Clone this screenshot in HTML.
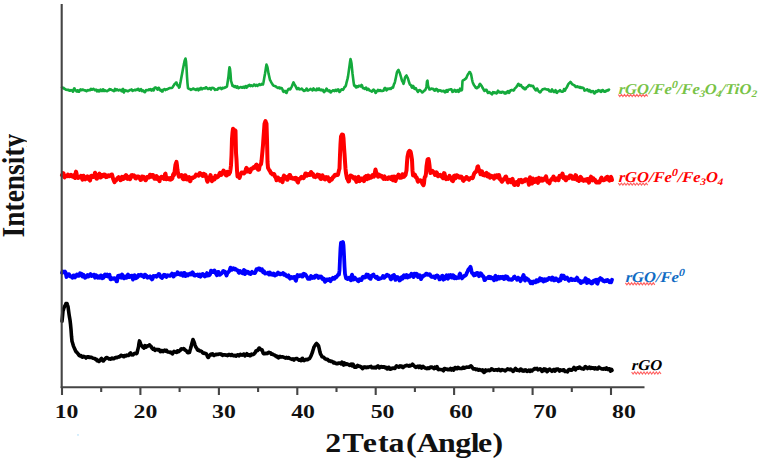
<!DOCTYPE html>
<html><head><meta charset="utf-8"><style>
html,body{margin:0;padding:0;background:#fff;}
svg{display:block;}
text{font-family:"Liberation Serif",serif;}
</style></head><body>
<svg width="761" height="462" viewBox="0 0 761 462">
<rect width="761" height="462" fill="#fff"/>
<g fill="none" stroke-linejoin="round" stroke-linecap="round">
<polyline points="62.0,87.4 62.5,88.0 63.0,87.8 63.5,87.7 64.0,88.7 64.5,89.0 65.0,88.8 65.5,89.3 66.0,89.7 66.5,89.7 67.0,89.9 67.5,90.0 68.0,89.7 68.5,89.7 69.0,90.2 69.5,90.8 70.0,90.8 70.5,90.3 71.0,90.0 71.5,90.3 72.0,90.5 72.5,90.9 73.0,91.7 73.5,90.8 74.0,88.5 74.5,88.4 75.0,89.7 75.5,90.2 76.0,90.5 76.5,91.4 77.0,91.5 77.5,90.3 78.0,90.5 78.5,91.8 79.0,91.7 79.5,90.9 80.0,89.8 80.5,89.3 81.0,90.1 81.5,90.2 82.0,89.5 82.5,89.6 83.0,89.9 83.5,89.8 84.0,90.1 84.5,90.5 85.0,90.3 85.5,90.3 86.0,90.9 86.5,91.2 87.0,90.6 87.5,90.1 88.0,90.3 88.5,90.4 89.0,90.2 89.5,89.9 90.0,90.2 90.5,89.8 91.0,88.9 91.5,89.2 92.0,89.8 92.5,89.6 93.0,88.9 93.5,88.8 94.0,89.5 94.5,89.8 95.0,90.3 95.5,90.2 96.0,89.5 96.5,90.4 97.0,91.3 97.5,90.5 98.0,90.2 98.5,91.0 99.0,91.4 99.5,91.3 100.0,90.3 100.5,89.6 101.0,90.0 101.5,90.6 102.0,91.1 102.5,90.5 103.0,89.3 103.5,89.6 104.0,91.0 104.5,91.0 105.0,90.3 105.5,90.4 106.0,90.8 106.5,91.1 107.0,91.2 107.5,90.8 108.0,90.3 108.5,90.5 109.0,90.2 109.5,89.1 110.0,89.5 110.5,89.8 111.0,89.4 111.5,89.8 112.0,90.1 112.5,90.4 113.0,90.5 113.5,90.8 114.0,91.1 114.5,90.3 115.0,88.9 115.5,89.1 116.0,90.4 116.5,90.1 117.0,89.4 117.5,89.7 118.0,90.1 118.5,90.5 119.0,90.3 119.5,89.9 120.0,89.9 120.5,90.0 121.0,90.1 121.5,91.1 122.0,91.3 122.5,89.4 123.0,88.9 123.5,91.3 124.0,92.5 124.5,90.8 125.0,90.1 125.5,90.8 126.0,90.7 126.5,90.5 127.0,91.0 127.5,91.3 128.0,91.1 128.5,91.1 129.0,90.7 129.5,90.2 130.0,90.0 130.5,90.0 131.0,89.9 131.5,89.4 132.0,89.8 132.5,90.9 133.0,90.6 133.5,90.3 134.0,90.3 134.5,89.9 135.0,89.9 135.5,90.3 136.0,89.9 136.5,89.5 137.0,89.9 137.5,89.5 138.0,88.8 138.5,89.0 139.0,90.1 139.5,90.7 140.0,90.1 140.5,89.5 141.0,89.2 141.5,90.2 142.0,91.2 142.5,90.7 143.0,90.4 143.5,91.0 144.0,91.5 144.5,92.0 145.0,92.2 145.5,91.1 146.0,90.1 146.5,90.1 147.0,90.3 147.5,90.3 148.0,90.3 148.5,89.7 149.0,89.4 149.5,89.9 150.0,89.6 150.5,89.2 151.0,90.2 151.5,90.7 152.0,90.2 152.5,89.2 153.0,89.4 153.5,90.5 154.0,89.7 154.5,87.8 155.0,87.5 155.5,87.7 156.0,87.6 156.5,88.1 157.0,88.8 157.5,89.7 158.0,89.1 158.5,87.8 159.0,88.0 159.5,89.0 160.0,90.1 160.5,90.6 161.0,90.0 161.5,90.0 162.0,91.5 162.5,91.5 163.0,90.0 163.5,89.5 164.0,89.5 164.5,89.1 165.0,89.5 165.5,90.1 166.0,89.4 166.5,89.2 167.0,89.5 167.5,89.1 168.0,88.8 168.5,88.7 169.0,88.4 169.5,88.0 170.0,88.0 170.5,88.1 171.0,88.0 171.5,87.9 172.0,87.9 172.5,87.4 173.0,86.6 173.5,85.7 174.0,85.0 174.5,84.2 175.0,83.7 175.5,83.3 176.0,82.5 176.5,82.6 177.0,84.2 177.5,85.5 178.0,85.5 178.5,85.8 179.0,87.7 179.5,87.2 180.0,84.4 180.5,82.1 181.0,79.5 181.5,76.7 182.0,74.2 182.5,71.6 183.0,68.8 183.5,66.2 184.0,63.9 184.5,61.2 185.0,59.7 185.5,58.5 186.0,61.2 186.5,67.3 187.0,76.5 187.5,83.4 188.0,88.2 188.5,88.4 189.0,89.0 189.5,89.0 190.0,89.1 190.5,89.6 191.0,89.9 191.5,89.4 192.0,89.2 192.5,89.2 193.0,88.5 193.5,88.6 194.0,89.1 194.5,89.0 195.0,89.4 195.5,90.0 196.0,90.0 196.5,89.2 197.0,89.0 197.5,88.7 198.0,88.9 198.5,90.3 199.0,89.5 199.5,88.7 200.0,89.4 200.5,88.7 201.0,87.9 201.5,88.9 202.0,89.4 202.5,88.6 203.0,88.4 203.5,88.5 204.0,88.2 204.5,88.5 205.0,88.5 205.5,87.6 206.0,87.2 206.5,87.5 207.0,88.1 207.5,88.8 208.0,89.0 208.5,88.9 209.0,88.7 209.5,88.2 210.0,88.0 210.5,89.0 211.0,89.5 211.5,88.5 212.0,87.8 212.5,88.0 213.0,88.0 213.5,88.1 214.0,88.5 214.5,89.2 215.0,89.8 215.5,89.5 216.0,89.5 216.5,89.6 217.0,89.6 217.5,89.6 218.0,88.8 218.5,88.1 219.0,88.4 219.5,88.2 220.0,87.9 220.5,87.8 221.0,88.1 221.5,89.1 222.0,88.9 222.5,88.0 223.0,87.8 223.5,88.1 224.0,88.1 224.5,87.6 225.0,87.7 225.5,87.4 226.0,87.1 226.5,87.0 227.0,86.3 227.5,83.0 228.0,79.6 228.5,76.1 229.0,71.0 229.5,67.2 230.0,68.8 230.5,73.7 231.0,80.8 231.5,82.3 232.0,84.1 232.5,85.8 233.0,85.4 233.5,85.6 234.0,86.5 234.5,87.0 235.0,86.6 235.5,86.1 236.0,86.6 236.5,87.6 237.0,87.1 237.5,86.5 238.0,87.5 238.5,88.2 239.0,87.9 239.5,87.6 240.0,87.3 240.5,87.0 241.0,87.1 241.5,87.3 242.0,87.7 242.5,87.7 243.0,86.9 243.5,86.7 244.0,87.3 244.5,87.8 245.0,87.1 245.5,86.2 246.0,86.7 246.5,87.7 247.0,87.3 247.5,85.7 248.0,85.7 248.5,86.2 249.0,85.1 249.5,84.8 250.0,85.9 250.5,86.1 251.0,85.4 251.5,85.4 252.0,85.9 252.5,86.1 253.0,85.8 253.5,85.3 254.0,84.6 254.5,84.5 255.0,85.1 255.5,85.8 256.0,85.5 256.5,85.0 257.0,85.5 257.5,85.8 258.0,85.2 258.5,84.9 259.0,84.4 259.5,84.2 260.0,85.0 260.5,85.0 261.0,84.7 261.5,84.5 262.0,83.8 262.5,83.6 263.0,84.5 263.5,82.3 264.0,79.4 264.5,76.5 265.0,73.8 265.5,70.6 266.0,67.3 266.5,64.6 267.0,65.9 267.5,67.5 268.0,70.5 268.5,73.4 269.0,75.5 269.5,77.8 270.0,80.0 270.5,80.7 271.0,81.8 271.5,82.7 272.0,83.4 272.5,84.3 273.0,85.2 273.5,85.7 274.0,85.8 274.5,85.9 275.0,86.2 275.5,86.2 276.0,86.5 276.5,87.2 277.0,87.5 277.5,87.5 278.0,88.0 278.5,87.9 279.0,87.4 279.5,87.7 280.0,88.5 280.5,88.5 281.0,87.9 281.5,88.0 282.0,88.5 282.5,89.5 283.0,91.0 283.5,91.8 284.0,91.6 284.5,91.1 285.0,90.8 285.5,91.3 286.0,92.7 286.5,93.0 287.0,91.8 287.5,90.4 288.0,89.7 288.5,89.1 289.0,88.7 289.5,88.8 290.0,89.4 290.5,89.0 291.0,87.9 291.5,87.1 292.0,86.2 292.5,84.7 293.0,83.5 293.5,82.4 294.0,83.3 294.5,84.3 295.0,85.2 295.5,86.0 296.0,87.1 296.5,88.3 297.0,89.1 297.5,88.6 298.0,88.2 298.5,88.0 299.0,88.7 299.5,89.4 300.0,89.2 300.5,89.3 301.0,89.1 301.5,88.6 302.0,88.7 302.5,89.6 303.0,90.0 303.5,90.5 304.0,90.9 304.5,90.3 305.0,90.4 305.5,90.5 306.0,89.6 306.5,88.6 307.0,88.7 307.5,89.8 308.0,90.6 308.5,90.4 309.0,89.9 309.5,89.8 310.0,89.4 310.5,88.8 311.0,89.4 311.5,89.6 312.0,89.8 312.5,90.5 313.0,89.4 313.5,88.4 314.0,89.1 314.5,89.9 315.0,89.8 315.5,90.1 316.0,90.3 316.5,89.5 317.0,88.6 317.5,89.2 318.0,90.0 318.5,88.9 319.0,88.5 319.5,89.4 320.0,90.1 320.5,90.3 321.0,89.9 321.5,89.6 322.0,90.3 322.5,90.1 323.0,89.8 323.5,91.4 324.0,92.1 324.5,90.7 325.0,90.8 325.5,91.1 326.0,89.6 326.5,88.6 327.0,89.2 327.5,89.9 328.0,90.6 328.5,91.2 329.0,90.8 329.5,90.3 330.0,91.3 330.5,92.4 331.0,92.3 331.5,91.5 332.0,91.1 332.5,90.7 333.0,90.2 333.5,90.4 334.0,90.8 334.5,91.1 335.0,90.6 335.5,89.8 336.0,90.5 336.5,90.9 337.0,90.0 337.5,89.6 338.0,89.4 338.5,89.7 339.0,91.2 339.5,92.0 340.0,91.6 340.5,90.6 341.0,90.0 341.5,89.5 342.0,89.2 342.5,89.6 343.0,89.8 343.5,89.1 344.0,88.2 344.5,87.2 345.0,86.9 345.5,86.4 346.0,85.0 346.5,82.7 347.0,80.8 347.5,78.9 348.0,76.6 348.5,73.1 349.0,69.5 349.5,65.8 350.0,62.3 350.5,59.1 351.0,60.8 351.5,63.5 352.0,68.5 352.5,73.5 353.0,77.5 353.5,81.5 354.0,84.9 354.5,86.1 355.0,86.0 355.5,85.8 356.0,87.5 356.5,87.4 357.0,86.3 357.5,86.8 358.0,87.0 358.5,86.0 359.0,85.7 359.5,85.8 360.0,86.2 360.5,86.5 361.0,85.6 361.5,85.0 362.0,85.5 362.5,87.1 363.0,88.1 363.5,88.0 364.0,88.4 364.5,88.9 365.0,88.5 365.5,87.8 366.0,87.5 366.5,88.8 367.0,89.8 367.5,89.1 368.0,88.7 368.5,88.9 369.0,89.8 369.5,90.5 370.0,90.5 370.5,90.8 371.0,91.0 371.5,91.3 372.0,91.7 372.5,91.2 373.0,90.2 373.5,89.6 374.0,89.9 374.5,90.5 375.0,91.4 375.5,92.9 376.0,92.7 376.5,91.1 377.0,91.0 377.5,91.1 378.0,89.9 378.5,90.2 379.0,90.9 379.5,90.3 380.0,90.0 380.5,90.5 381.0,90.9 381.5,90.9 382.0,90.9 382.5,90.9 383.0,90.8 383.5,90.7 384.0,89.5 384.5,88.3 385.0,87.9 385.5,88.1 386.0,89.3 386.5,90.3 387.0,90.0 387.5,89.0 388.0,88.6 388.5,88.9 389.0,89.1 389.5,88.7 390.0,88.4 390.5,89.0 391.0,89.0 391.5,87.9 392.0,87.4 392.5,87.3 393.0,87.6 393.5,85.9 394.0,84.2 394.5,83.3 395.0,81.6 395.5,79.3 396.0,77.0 396.5,74.5 397.0,72.1 397.5,71.3 398.0,70.4 398.5,69.9 399.0,71.3 399.5,72.4 400.0,73.5 400.5,75.3 401.0,77.0 401.5,78.8 402.0,80.6 402.5,81.5 403.0,82.5 403.5,83.8 404.0,82.4 404.5,80.0 405.0,77.6 405.5,76.8 406.0,75.9 406.5,75.5 407.0,76.5 407.5,77.7 408.0,78.7 408.5,80.4 409.0,82.0 409.5,83.5 410.0,84.6 410.5,84.8 411.0,85.4 411.5,86.6 412.0,87.7 412.5,87.0 413.0,85.9 413.5,86.4 414.0,88.1 414.5,88.9 415.0,88.7 415.5,88.0 416.0,88.5 416.5,89.9 417.0,90.4 417.5,91.3 418.0,92.0 418.5,90.9 419.0,90.3 419.5,90.1 420.0,90.1 420.5,90.6 421.0,91.1 421.5,91.6 422.0,92.4 422.5,92.4 423.0,91.8 423.5,91.5 424.0,90.8 424.5,90.3 425.0,90.3 425.5,89.3 426.0,88.6 426.5,86.2 427.0,81.5 427.5,80.6 428.0,85.3 428.5,87.2 429.0,88.0 429.5,89.5 430.0,89.5 430.5,89.1 431.0,89.0 431.5,88.6 432.0,88.7 432.5,89.0 433.0,88.8 433.5,89.1 434.0,90.1 434.5,90.7 435.0,90.7 435.5,89.8 436.0,89.0 436.5,88.9 437.0,89.3 437.5,90.5 438.0,91.3 438.5,90.9 439.0,90.2 439.5,90.5 440.0,90.6 440.5,90.3 441.0,90.9 441.5,91.3 442.0,90.9 442.5,91.0 443.0,91.2 443.5,90.7 444.0,90.9 444.5,91.8 445.0,92.4 445.5,92.2 446.0,90.6 446.5,90.1 447.0,91.5 447.5,91.7 448.0,90.3 448.5,89.7 449.0,89.8 449.5,89.6 450.0,89.4 450.5,89.3 451.0,89.4 451.5,89.4 452.0,90.7 452.5,91.9 453.0,91.7 453.5,91.4 454.0,90.7 454.5,89.9 455.0,90.2 455.5,91.1 456.0,91.7 456.5,91.4 457.0,90.3 457.5,90.0 458.0,90.8 458.5,91.8 459.0,91.6 459.5,90.0 460.0,88.7 460.5,89.1 461.0,90.4 461.5,90.3 462.0,89.7 462.5,81.1 463.0,80.3 463.5,80.0 464.0,79.9 464.5,79.7 465.0,79.1 465.5,78.7 466.0,78.5 466.5,77.6 467.0,76.3 467.5,75.2 468.0,74.3 468.5,73.6 469.0,72.9 469.5,72.0 470.0,72.2 470.5,73.2 471.0,74.1 471.5,76.6 472.0,79.2 472.5,81.5 473.0,83.2 473.5,84.1 474.0,85.3 474.5,85.7 475.0,86.5 475.5,87.5 476.0,87.9 476.5,88.2 477.0,88.3 477.5,87.2 478.0,87.4 478.5,87.3 479.0,86.0 479.5,84.5 480.0,83.8 480.5,84.5 481.0,85.2 481.5,85.8 482.0,86.5 482.5,87.7 483.0,88.5 483.5,89.3 484.0,90.4 484.5,91.0 485.0,90.7 485.5,89.9 486.0,89.7 486.5,89.7 487.0,90.8 487.5,92.2 488.0,92.9 488.5,92.8 489.0,92.1 489.5,92.1 490.0,92.6 490.5,93.4 491.0,93.4 491.5,93.6 492.0,94.4 492.5,93.2 493.0,92.1 493.5,92.6 494.0,93.0 494.5,92.5 495.0,92.3 495.5,92.8 496.0,93.1 496.5,93.5 497.0,93.1 497.5,91.4 498.0,90.7 498.5,91.3 499.0,92.0 499.5,92.4 500.0,92.2 500.5,92.0 501.0,92.7 501.5,92.8 502.0,91.7 502.5,91.7 503.0,92.2 503.5,92.0 504.0,92.4 504.5,93.4 505.0,93.6 505.5,92.6 506.0,92.3 506.5,93.1 507.0,92.5 507.5,91.4 508.0,91.1 508.5,91.9 509.0,92.9 509.5,92.4 510.0,91.0 510.5,90.3 511.0,90.6 511.5,90.2 512.0,89.9 512.5,90.3 513.0,90.2 513.5,90.6 514.0,90.2 514.5,88.9 515.0,88.4 515.5,87.8 516.0,87.5 516.5,86.9 517.0,85.9 517.5,85.3 518.0,84.2 518.5,83.9 519.0,84.8 519.5,85.6 520.0,85.1 520.5,84.9 521.0,85.0 521.5,86.2 522.0,86.9 522.5,87.4 523.0,88.1 523.5,87.5 524.0,88.1 524.5,89.2 525.0,89.1 525.5,89.1 526.0,88.5 526.5,87.4 527.0,87.1 527.5,86.9 528.0,86.2 528.5,85.6 529.0,85.1 529.5,85.0 530.0,85.3 530.5,86.0 531.0,85.9 531.5,85.6 532.0,86.1 532.5,86.2 533.0,85.9 533.5,86.9 534.0,88.0 534.5,88.6 535.0,89.3 535.5,90.1 536.0,90.4 536.5,89.4 537.0,88.5 537.5,89.3 538.0,90.5 538.5,90.9 539.0,91.7 539.5,92.1 540.0,92.4 540.5,92.1 541.0,91.1 541.5,90.6 542.0,89.9 542.5,89.4 543.0,89.4 543.5,89.2 544.0,89.0 544.5,88.8 545.0,88.8 545.5,89.0 546.0,89.3 546.5,89.3 547.0,89.6 547.5,89.8 548.0,89.3 548.5,89.4 549.0,90.7 549.5,91.3 550.0,91.1 550.5,91.5 551.0,91.6 551.5,90.2 552.0,89.4 552.5,90.1 553.0,91.1 553.5,91.7 554.0,92.1 554.5,91.9 555.0,91.0 555.5,90.2 556.0,91.0 556.5,92.7 557.0,92.9 557.5,92.0 558.0,91.4 558.5,91.2 559.0,91.3 559.5,90.7 560.0,90.2 560.5,90.8 561.0,91.4 561.5,91.6 562.0,91.8 562.5,91.8 563.0,91.5 563.5,90.6 564.0,89.1 564.5,89.6 565.0,90.6 565.5,89.2 566.0,88.4 566.5,87.8 567.0,86.9 567.5,86.0 568.0,84.7 568.5,83.8 569.0,83.3 569.5,82.9 570.0,82.5 570.5,81.9 571.0,82.5 571.5,83.2 572.0,84.1 572.5,84.4 573.0,84.7 573.5,85.0 574.0,85.2 574.5,85.3 575.0,86.0 575.5,86.7 576.0,87.1 576.5,86.9 577.0,86.3 577.5,86.5 578.0,87.1 578.5,86.9 579.0,86.8 579.5,87.6 580.0,87.8 580.5,87.1 581.0,87.2 581.5,87.9 582.0,87.8 582.5,87.6 583.0,87.9 583.5,88.0 584.0,89.3 584.5,90.6 585.0,90.3 585.5,90.0 586.0,90.3 586.5,89.9 587.0,89.3 587.5,89.5 588.0,90.1 588.5,91.1 589.0,91.1 589.5,90.0 590.0,90.6 590.5,91.9 591.0,92.1 591.5,91.5 592.0,91.1 592.5,91.3 593.0,91.0 593.5,91.8 594.0,93.2 594.5,93.5 595.0,92.8 595.5,92.0 596.0,91.1 596.5,91.2 597.0,91.8 597.5,91.4 598.0,90.5 598.5,90.1 599.0,90.8 599.5,91.1 600.0,90.5 600.5,90.9 601.0,91.9 601.5,91.5 602.0,90.5 602.5,90.0 603.0,90.2 603.5,91.1 604.0,91.6 604.5,91.7 605.0,91.7 605.5,90.9 606.0,90.7 606.5,91.2 607.0,90.7 607.5,90.1 608.0,90.5 608.5,90.3 609.0,89.6" stroke="#14aa3c" stroke-width="2.6"/>
<polyline points="62.0,175.1 62.5,174.5 63.0,173.1 63.5,173.3 64.0,176.5 64.5,177.4 65.0,176.1 65.5,176.3 66.0,175.9 66.5,175.6 67.0,176.2 67.5,175.7 68.0,174.6 68.5,174.8 69.0,175.8 69.5,176.3 70.0,176.0 70.5,175.4 71.0,174.9 71.5,175.1 72.0,176.3 72.5,176.7 73.0,176.5 73.5,175.8 74.0,175.2 74.5,177.5 75.0,177.9 75.5,174.0 76.0,171.6 76.5,173.4 77.0,176.2 77.5,177.4 78.0,178.0 78.5,177.9 79.0,177.2 79.5,176.8 80.0,177.1 80.5,177.0 81.0,175.8 81.5,176.1 82.0,178.6 82.5,179.6 83.0,177.3 83.5,175.7 84.0,177.3 84.5,178.9 85.0,179.3 85.5,178.4 86.0,177.2 86.5,178.8 87.0,178.8 87.5,176.4 88.0,177.4 88.5,178.8 89.0,178.5 89.5,179.7 90.0,180.6 90.5,178.3 91.0,175.9 91.5,175.8 92.0,176.8 92.5,176.7 93.0,176.3 93.5,177.0 94.0,176.9 94.5,175.0 95.0,172.7 95.5,173.6 96.0,176.9 96.5,178.6 97.0,178.7 97.5,177.0 98.0,175.7 98.5,176.3 99.0,175.4 99.5,173.6 100.0,174.9 100.5,177.5 101.0,177.3 101.5,176.0 102.0,174.9 102.5,174.9 103.0,176.1 103.5,175.5 104.0,174.5 104.5,174.5 105.0,174.7 105.5,176.3 106.0,177.1 106.5,176.7 107.0,177.0 107.5,176.4 108.0,175.5 108.5,175.2 109.0,175.6 109.5,176.1 110.0,175.6 110.5,175.1 111.0,175.0 111.5,174.5 112.0,174.5 112.5,176.3 113.0,178.6 113.5,179.8 114.0,181.2 114.5,182.2 115.0,180.4 115.5,179.7 116.0,180.5 116.5,179.6 117.0,179.1 117.5,178.7 118.0,177.6 118.5,177.2 119.0,178.5 119.5,178.3 120.0,178.1 120.5,180.2 121.0,180.1 121.5,178.0 122.0,176.8 122.5,177.1 123.0,177.9 123.5,178.9 124.0,178.6 124.5,176.8 125.0,176.0 125.5,175.6 126.0,175.0 126.5,175.7 127.0,177.3 127.5,178.9 128.0,178.8 128.5,177.2 129.0,176.9 129.5,178.0 130.0,179.1 130.5,178.3 131.0,176.6 131.5,175.2 132.0,175.0 132.5,176.0 133.0,176.4 133.5,175.8 134.0,175.3 134.5,176.0 135.0,177.2 135.5,178.3 136.0,178.5 136.5,177.5 137.0,176.5 137.5,176.5 138.0,176.4 138.5,176.6 139.0,177.5 139.5,177.9 140.0,178.9 140.5,180.0 141.0,179.9 141.5,178.2 142.0,176.5 142.5,177.0 143.0,177.0 143.5,176.8 144.0,178.7 144.5,179.2 145.0,179.3 145.5,180.3 146.0,180.1 146.5,178.2 147.0,177.0 147.5,177.5 148.0,177.3 148.5,176.7 149.0,177.6 149.5,176.5 150.0,174.7 150.5,174.7 151.0,175.5 151.5,176.8 152.0,176.5 152.5,174.9 153.0,174.9 153.5,176.1 154.0,177.4 154.5,178.8 155.0,178.7 155.5,177.8 156.0,177.0 156.5,176.0 157.0,177.6 157.5,179.1 158.0,178.0 158.5,177.6 159.0,179.7 159.5,181.2 160.0,179.1 160.5,177.8 161.0,178.0 161.5,176.8 162.0,176.9 162.5,177.9 163.0,177.9 163.5,177.9 164.0,178.9 164.5,177.7 165.0,174.2 165.5,173.7 166.0,176.8 166.5,179.3 167.0,178.9 167.5,177.9 168.0,178.2 168.5,179.1 169.0,179.4 169.5,178.3 170.0,178.1 170.5,179.7 171.0,179.1 171.5,177.8 172.0,178.9 172.5,178.0 173.0,175.0 173.5,174.0 174.0,175.1 174.5,172.5 175.0,168.2 175.5,164.5 176.0,163.4 176.5,161.9 177.0,165.6 177.5,170.1 178.0,173.3 178.5,175.4 179.0,176.7 179.5,176.0 180.0,175.0 180.5,175.8 181.0,176.1 181.5,175.0 182.0,175.9 182.5,178.2 183.0,179.0 183.5,179.3 184.0,179.1 184.5,177.1 185.0,175.2 185.5,175.2 186.0,177.5 186.5,179.4 187.0,179.5 187.5,178.8 188.0,177.5 188.5,177.2 189.0,177.0 189.5,178.2 190.0,181.3 190.5,181.0 191.0,178.3 191.5,177.7 192.0,177.7 192.5,177.5 193.0,177.9 193.5,177.5 194.0,177.1 194.5,177.1 195.0,176.8 195.5,175.5 196.0,174.6 196.5,174.8 197.0,175.0 197.5,175.0 198.0,175.4 198.5,175.6 199.0,174.5 199.5,173.3 200.0,173.0 200.5,173.6 201.0,174.8 201.5,174.9 202.0,174.4 202.5,175.9 203.0,175.9 203.5,173.7 204.0,174.3 204.5,175.2 205.0,174.4 205.5,174.7 206.0,176.4 206.5,178.3 207.0,180.6 207.5,181.7 208.0,180.4 208.5,179.9 209.0,179.8 209.5,178.5 210.0,176.5 210.5,175.1 211.0,176.9 211.5,180.0 212.0,181.2 212.5,180.2 213.0,178.3 213.5,177.8 214.0,179.6 214.5,179.4 215.0,177.1 215.5,175.8 216.0,176.2 216.5,177.7 217.0,177.5 217.5,176.5 218.0,176.7 218.5,176.4 219.0,175.0 219.5,173.6 220.0,172.8 220.5,173.0 221.0,175.0 221.5,174.9 222.0,172.6 222.5,172.0 223.0,171.6 223.5,170.5 224.0,171.2 224.5,172.2 225.0,173.7 225.5,174.3 226.0,175.3 226.5,175.5 227.0,173.5 227.5,171.8 228.0,173.0 228.5,174.4 229.0,174.1 229.5,173.0 230.0,172.3 230.5,169.5 231.0,165.2 231.5,155.6 232.0,138.9 232.5,132.6 233.0,128.8 233.5,129.1 234.0,129.8 234.5,130.1 235.0,130.3 235.5,130.6 236.0,152.8 236.5,159.6 237.0,170.3 237.5,176.4 238.0,176.1 238.5,175.2 239.0,176.8 239.5,177.9 240.0,176.5 240.5,174.9 241.0,173.6 241.5,172.6 242.0,172.6 242.5,172.7 243.0,172.5 243.5,172.4 244.0,173.4 244.5,173.1 245.0,171.7 245.5,171.1 246.0,168.7 246.5,167.9 247.0,170.1 247.5,171.5 248.0,170.8 248.5,169.4 249.0,170.0 249.5,171.6 250.0,172.1 250.5,171.1 251.0,169.9 251.5,168.6 252.0,168.2 252.5,168.6 253.0,168.4 253.5,167.2 254.0,166.9 254.5,167.8 255.0,167.8 255.5,166.3 256.0,165.0 256.5,164.6 257.0,166.1 257.5,168.0 258.0,169.7 258.5,169.7 259.0,169.6 259.5,166.7 260.0,165.2 260.5,164.8 261.0,164.1 261.5,161.1 262.0,155.9 262.5,150.8 263.0,145.1 263.5,137.7 264.0,130.9 264.5,123.9 265.0,122.3 265.5,121.1 266.0,122.7 266.5,123.7 267.0,139.4 267.5,162.0 268.0,167.8 268.5,168.7 269.0,169.7 269.5,170.5 270.0,171.0 270.5,172.4 271.0,173.3 271.5,173.0 272.0,173.6 272.5,174.4 273.0,174.2 273.5,174.0 274.0,173.9 274.5,174.8 275.0,176.6 275.5,177.2 276.0,178.3 276.5,180.2 277.0,178.9 277.5,177.6 278.0,177.6 278.5,178.4 279.0,179.4 279.5,179.5 280.0,180.7 280.5,180.4 281.0,179.0 281.5,179.3 282.0,180.7 282.5,182.1 283.0,180.0 283.5,176.7 284.0,175.5 284.5,176.3 285.0,177.4 285.5,177.2 286.0,177.1 286.5,177.8 287.0,179.6 287.5,179.8 288.0,177.4 288.5,176.3 289.0,175.9 289.5,174.9 290.0,174.9 290.5,176.5 291.0,178.2 291.5,177.8 292.0,177.5 292.5,178.6 293.0,178.7 293.5,178.3 294.0,178.2 294.5,178.1 295.0,179.2 295.5,179.5 296.0,177.9 296.5,178.2 297.0,180.2 297.5,182.0 298.0,182.4 298.5,180.5 299.0,179.1 299.5,178.7 300.0,178.9 300.5,178.7 301.0,177.2 301.5,176.8 302.0,177.2 302.5,177.3 303.0,177.7 303.5,178.1 304.0,177.5 304.5,176.2 305.0,174.5 305.5,173.4 306.0,173.5 306.5,174.6 307.0,175.6 307.5,174.5 308.0,174.0 308.5,174.9 309.0,174.3 309.5,173.8 310.0,175.0 310.5,174.4 311.0,172.0 311.5,172.6 312.0,174.8 312.5,174.6 313.0,173.9 313.5,175.2 314.0,176.8 314.5,176.5 315.0,176.9 315.5,177.1 316.0,176.2 316.5,176.1 317.0,175.5 317.5,174.5 318.0,175.1 318.5,176.6 319.0,176.3 319.5,175.0 320.0,176.1 320.5,178.9 321.0,179.0 321.5,177.0 322.0,175.4 322.5,175.3 323.0,177.3 323.5,177.5 324.0,177.2 324.5,179.2 325.0,179.4 325.5,177.4 326.0,177.0 326.5,177.9 327.0,178.6 327.5,177.6 328.0,177.4 328.5,179.7 329.0,180.7 329.5,181.1 330.0,180.7 330.5,179.0 331.0,178.9 331.5,179.7 332.0,179.3 332.5,177.8 333.0,177.0 333.5,177.0 334.0,176.5 334.5,175.3 335.0,174.9 335.5,175.4 336.0,175.0 336.5,174.5 337.0,174.7 337.5,175.0 338.0,174.7 338.5,172.3 339.0,170.1 339.5,168.6 340.0,155.0 340.5,143.9 341.0,136.6 341.5,135.4 342.0,134.5 342.5,134.6 343.0,134.8 343.5,138.4 344.0,146.9 344.5,153.7 345.0,161.7 345.5,168.7 346.0,173.2 346.5,175.8 347.0,178.4 347.5,179.0 348.0,180.3 348.5,181.5 349.0,181.1 349.5,178.7 350.0,176.8 350.5,175.5 351.0,175.5 351.5,175.9 352.0,176.1 352.5,176.6 353.0,177.0 353.5,177.9 354.0,178.8 354.5,178.6 355.0,177.2 355.5,177.6 356.0,180.8 356.5,181.8 357.0,180.3 357.5,179.3 358.0,177.3 358.5,176.9 359.0,179.7 359.5,181.2 360.0,179.1 360.5,179.2 361.0,180.0 361.5,178.5 362.0,179.2 362.5,179.9 363.0,178.9 363.5,180.3 364.0,181.1 364.5,178.2 365.0,176.8 365.5,177.0 366.0,176.1 366.5,176.8 367.0,179.2 367.5,178.1 368.0,175.5 368.5,176.3 369.0,178.4 369.5,178.0 370.0,176.5 370.5,176.9 371.0,177.7 371.5,177.5 372.0,175.9 372.5,175.1 373.0,176.2 373.5,176.4 374.0,176.6 374.5,174.9 375.0,171.8 375.5,169.5 376.0,171.4 376.5,173.3 377.0,174.2 377.5,175.1 378.0,176.8 378.5,176.0 379.0,174.6 379.5,174.9 380.0,175.6 380.5,176.3 381.0,175.9 381.5,175.7 382.0,176.5 382.5,176.8 383.0,178.2 383.5,178.8 384.0,177.0 384.5,176.3 385.0,177.8 385.5,178.9 386.0,178.5 386.5,178.1 387.0,178.4 387.5,179.0 388.0,178.8 388.5,177.5 389.0,177.2 389.5,177.6 390.0,177.5 390.5,178.3 391.0,178.9 391.5,178.0 392.0,176.7 392.5,177.7 393.0,180.3 393.5,179.5 394.0,176.5 394.5,177.3 395.0,180.7 395.5,180.9 396.0,179.4 396.5,178.0 397.0,176.2 397.5,176.7 398.0,176.8 398.5,174.6 399.0,175.2 399.5,177.6 400.0,177.8 400.5,176.4 401.0,177.0 401.5,177.7 402.0,175.7 402.5,174.2 403.0,174.8 403.5,175.9 404.0,176.8 404.5,175.9 405.0,175.8 405.5,175.0 406.0,172.6 406.5,170.3 407.0,162.4 407.5,156.6 408.0,154.3 408.5,152.1 409.0,151.5 409.5,150.9 410.0,151.1 410.5,151.5 411.0,153.5 411.5,156.6 412.0,159.8 412.5,170.4 413.0,175.3 413.5,175.5 414.0,175.7 414.5,175.3 415.0,174.7 415.5,176.7 416.0,177.6 416.5,177.3 417.0,178.4 417.5,180.7 418.0,181.7 418.5,181.1 419.0,180.9 419.5,180.7 420.0,180.3 420.5,180.2 421.0,180.6 421.5,181.2 422.0,182.8 422.5,184.1 423.0,184.6 423.5,185.2 424.0,183.4 424.5,178.3 425.0,176.7 425.5,176.4 426.0,173.4 426.5,166.4 427.0,163.1 427.5,159.7 428.0,159.2 428.5,159.0 429.0,161.4 429.5,165.4 430.0,170.7 430.5,173.0 431.0,172.6 431.5,172.5 432.0,171.3 432.5,170.9 433.0,172.0 433.5,171.8 434.0,172.2 434.5,173.8 435.0,175.0 435.5,174.9 436.0,173.5 436.5,172.4 437.0,172.9 437.5,175.1 438.0,176.3 438.5,175.4 439.0,174.8 439.5,175.6 440.0,175.3 440.5,174.8 441.0,175.5 441.5,176.4 442.0,177.0 442.5,177.8 443.0,178.2 443.5,176.2 444.0,173.1 444.5,173.3 445.0,175.6 445.5,177.8 446.0,179.1 446.5,177.9 447.0,177.3 447.5,178.8 448.0,179.0 448.5,178.1 449.0,177.2 449.5,175.9 450.0,176.7 450.5,178.1 451.0,177.8 451.5,179.1 452.0,180.6 452.5,180.9 453.0,181.1 453.5,179.2 454.0,175.9 454.5,175.6 455.0,177.6 455.5,178.4 456.0,176.9 456.5,175.3 457.0,175.2 457.5,175.9 458.0,175.7 458.5,176.6 459.0,177.5 459.5,176.9 460.0,177.8 460.5,177.6 461.0,176.5 461.5,176.8 462.0,177.5 462.5,178.7 463.0,180.4 463.5,180.9 464.0,179.8 464.5,178.5 465.0,178.0 465.5,178.9 466.0,178.6 466.5,177.0 467.0,177.6 467.5,178.0 468.0,178.2 468.5,179.3 469.0,179.7 469.5,178.9 470.0,178.2 470.5,178.3 471.0,178.0 471.5,177.6 472.0,178.0 472.5,178.2 473.0,177.4 473.5,175.5 474.0,174.0 474.5,173.0 475.0,172.4 475.5,172.2 476.0,171.8 476.5,170.7 477.0,169.1 477.5,166.7 478.0,166.3 478.5,168.5 479.0,169.8 479.5,170.4 480.0,172.3 480.5,174.1 481.0,173.5 481.5,171.3 482.0,171.3 482.5,173.4 483.0,175.1 483.5,175.0 484.0,175.1 484.5,175.5 485.0,174.6 485.5,174.1 486.0,173.3 486.5,172.9 487.0,174.7 487.5,176.4 488.0,176.0 488.5,174.2 489.0,174.6 489.5,176.6 490.0,177.7 490.5,177.4 491.0,176.2 491.5,175.8 492.0,176.0 492.5,176.3 493.0,176.6 493.5,177.7 494.0,178.7 494.5,177.1 495.0,175.6 495.5,177.1 496.0,177.3 496.5,175.4 497.0,175.2 497.5,176.8 498.0,177.5 498.5,176.0 499.0,175.1 499.5,176.8 500.0,179.4 500.5,179.9 501.0,179.1 501.5,181.1 502.0,181.7 502.5,180.4 503.0,180.3 503.5,179.9 504.0,179.1 504.5,178.3 505.0,177.7 505.5,176.8 506.0,176.5 506.5,177.8 507.0,179.3 507.5,181.3 508.0,182.4 508.5,181.5 509.0,181.2 509.5,180.6 510.0,179.8 510.5,181.1 511.0,182.1 511.5,181.3 512.0,179.5 512.5,178.8 513.0,180.8 513.5,183.2 514.0,184.6 514.5,185.0 515.0,184.5 515.5,183.6 516.0,182.9 516.5,182.0 517.0,182.3 517.5,184.2 518.0,185.0 518.5,182.0 519.0,180.1 519.5,181.2 520.0,180.6 520.5,180.0 521.0,179.8 521.5,180.3 522.0,182.3 522.5,182.1 523.0,180.5 523.5,180.3 524.0,180.8 524.5,181.2 525.0,180.4 525.5,179.3 526.0,179.3 526.5,180.1 527.0,180.4 527.5,179.8 528.0,180.5 528.5,182.9 529.0,184.8 529.5,181.6 530.0,177.3 530.5,178.1 531.0,180.2 531.5,182.0 532.0,183.5 532.5,181.2 533.0,178.4 533.5,179.6 534.0,181.2 534.5,182.0 535.0,181.8 535.5,180.6 536.0,180.0 536.5,178.9 537.0,179.5 537.5,182.1 538.0,182.8 538.5,179.5 539.0,177.8 539.5,179.2 540.0,180.3 540.5,180.7 541.0,179.0 541.5,178.5 542.0,180.3 542.5,180.6 543.0,179.4 543.5,178.8 544.0,179.8 544.5,179.8 545.0,179.1 545.5,177.4 546.0,176.4 546.5,178.1 547.0,180.4 547.5,181.7 548.0,181.3 548.5,181.0 549.0,182.7 549.5,183.3 550.0,181.1 550.5,180.3 551.0,180.1 551.5,179.1 552.0,179.4 552.5,179.5 553.0,177.4 553.5,176.5 554.0,177.3 554.5,178.0 555.0,180.0 555.5,180.3 556.0,179.2 556.5,179.0 557.0,178.4 557.5,178.1 558.0,179.3 558.5,180.2 559.0,178.3 559.5,175.9 560.0,176.3 560.5,176.9 561.0,175.5 561.5,175.2 562.0,174.7 562.5,173.5 563.0,175.5 563.5,178.2 564.0,177.6 564.5,176.9 565.0,178.2 565.5,180.1 566.0,180.3 566.5,178.2 567.0,177.3 567.5,178.0 568.0,178.2 568.5,178.3 569.0,177.8 569.5,176.4 570.0,175.5 570.5,175.8 571.0,175.6 571.5,175.9 572.0,177.2 572.5,178.8 573.0,178.7 573.5,177.5 574.0,178.2 574.5,178.9 575.0,177.4 575.5,175.1 576.0,175.4 576.5,178.4 577.0,179.9 577.5,178.7 578.0,178.3 578.5,180.4 579.0,181.0 579.5,179.4 580.0,177.4 580.5,176.8 581.0,177.6 581.5,177.8 582.0,179.2 582.5,180.3 583.0,180.5 583.5,180.8 584.0,179.9 584.5,180.0 585.0,180.5 585.5,179.5 586.0,179.4 586.5,180.6 587.0,180.2 587.5,179.0 588.0,178.9 588.5,180.8 589.0,182.6 589.5,181.1 590.0,178.9 590.5,177.7 591.0,176.7 591.5,177.3 592.0,179.7 592.5,180.3 593.0,178.8 593.5,178.4 594.0,179.7 594.5,179.8 595.0,179.8 595.5,181.4 596.0,182.2 596.5,182.5 597.0,182.5 597.5,182.4 598.0,182.5 598.5,181.6 599.0,181.9 599.5,182.3 600.0,181.4 600.5,180.4 601.0,178.3 601.5,177.6 602.0,178.6 602.5,179.3 603.0,180.1 603.5,180.3 604.0,180.3 604.5,179.9 605.0,179.3 605.5,178.5 606.0,177.6 606.5,178.6 607.0,179.2 607.5,176.8 608.0,177.2 608.5,179.4 609.0,180.2 609.5,180.7 610.0,179.3 610.5,177.3 611.0,176.9 611.5,178.0 612.0,180.0" stroke="#ff0000" stroke-width="4.0"/>
<polyline points="62.0,272.8 62.5,271.4 63.0,271.7 63.5,272.4 64.0,272.4 64.5,272.1 65.0,271.6 65.5,272.3 66.0,274.6 66.5,277.0 67.0,276.1 67.5,274.5 68.0,274.4 68.5,274.2 69.0,274.2 69.5,275.2 70.0,276.2 70.5,276.6 71.0,276.8 71.5,276.4 72.0,276.7 72.5,277.8 73.0,276.9 73.5,275.5 74.0,275.5 74.5,276.9 75.0,277.4 75.5,275.8 76.0,275.2 76.5,275.4 77.0,274.4 77.5,274.6 78.0,275.9 78.5,275.9 79.0,275.7 79.5,274.4 80.0,273.3 80.5,274.5 81.0,274.3 81.5,273.7 82.0,275.6 82.5,276.5 83.0,275.4 83.5,274.8 84.0,275.6 84.5,276.7 85.0,277.8 85.5,277.5 86.0,277.1 86.5,277.0 87.0,275.8 87.5,275.1 88.0,276.2 88.5,276.5 89.0,275.5 89.5,275.1 90.0,274.5 90.5,274.0 91.0,275.7 91.5,276.1 92.0,274.9 92.5,275.1 93.0,275.9 93.5,275.9 94.0,274.6 94.5,275.3 95.0,277.7 95.5,277.4 96.0,275.2 96.5,275.7 97.0,276.9 97.5,277.4 98.0,277.8 98.5,276.8 99.0,276.3 99.5,276.8 100.0,277.8 100.5,277.3 101.0,275.4 101.5,275.5 102.0,277.6 102.5,278.3 103.0,277.9 103.5,277.8 104.0,276.6 104.5,275.1 105.0,274.4 105.5,275.4 106.0,276.1 106.5,274.9 107.0,274.6 107.5,275.7 108.0,276.7 108.5,276.7 109.0,275.0 109.5,274.8 110.0,277.1 110.5,279.2 111.0,279.4 111.5,278.5 112.0,278.2 112.5,278.4 113.0,278.8 113.5,278.8 114.0,278.1 114.5,278.1 115.0,278.5 115.5,278.8 116.0,279.8 116.5,281.3 117.0,281.3 117.5,278.8 118.0,276.0 118.5,275.7 119.0,276.7 119.5,276.1 120.0,275.5 120.5,277.4 121.0,277.7 121.5,275.3 122.0,274.4 122.5,275.1 123.0,276.2 123.5,277.8 124.0,278.3 124.5,277.1 125.0,276.6 125.5,277.2 126.0,277.9 126.5,277.9 127.0,276.8 127.5,275.1 128.0,274.5 128.5,275.5 129.0,277.2 129.5,277.1 130.0,275.8 130.5,275.8 131.0,276.2 131.5,275.6 132.0,275.7 132.5,278.1 133.0,279.6 133.5,277.8 134.0,276.0 134.5,275.2 135.0,275.7 135.5,277.6 136.0,278.3 136.5,277.7 137.0,277.4 137.5,277.3 138.0,276.2 138.5,275.0 139.0,275.4 139.5,275.8 140.0,275.2 140.5,274.8 141.0,274.7 141.5,275.5 142.0,276.1 142.5,275.5 143.0,275.5 143.5,276.4 144.0,277.2 144.5,276.3 145.0,274.6 145.5,275.0 146.0,275.4 146.5,275.8 147.0,277.0 147.5,277.7 148.0,277.4 148.5,277.4 149.0,277.5 149.5,276.6 150.0,276.3 150.5,276.7 151.0,277.2 151.5,278.7 152.0,279.5 152.5,278.9 153.0,277.1 153.5,275.9 154.0,276.4 154.5,276.5 155.0,275.8 155.5,275.8 156.0,276.6 156.5,276.8 157.0,276.2 157.5,275.9 158.0,275.0 158.5,274.0 159.0,273.9 159.5,274.3 160.0,275.9 160.5,277.0 161.0,276.9 161.5,277.5 162.0,278.1 162.5,277.3 163.0,276.3 163.5,275.2 164.0,274.8 164.5,275.2 165.0,275.0 165.5,275.8 166.0,276.8 166.5,277.0 167.0,276.0 167.5,275.3 168.0,275.6 168.5,275.5 169.0,275.5 169.5,275.8 170.0,275.8 170.5,275.3 171.0,274.9 171.5,274.3 172.0,273.6 172.5,274.0 173.0,274.9 173.5,276.6 174.0,276.2 174.5,274.0 175.0,274.1 175.5,274.3 176.0,273.9 176.5,274.4 177.0,273.5 177.5,272.3 178.0,273.2 178.5,274.1 179.0,273.8 179.5,273.5 180.0,274.7 180.5,274.8 181.0,273.3 181.5,273.1 182.0,273.7 182.5,274.6 183.0,275.8 183.5,274.8 184.0,272.9 184.5,272.9 185.0,274.7 185.5,276.1 186.0,274.9 186.5,274.1 187.0,274.3 187.5,275.0 188.0,275.5 188.5,274.5 189.0,274.0 189.5,274.3 190.0,273.5 190.5,273.4 191.0,274.5 191.5,274.3 192.0,273.0 192.5,272.3 193.0,272.7 193.5,274.4 194.0,275.4 194.5,275.6 195.0,275.7 195.5,275.2 196.0,274.7 196.5,275.1 197.0,274.9 197.5,274.6 198.0,275.4 198.5,276.0 199.0,275.0 199.5,274.5 200.0,276.0 200.5,276.7 201.0,275.4 201.5,274.5 202.0,275.2 202.5,275.1 203.0,273.9 203.5,275.0 204.0,276.0 204.5,275.6 205.0,276.4 205.5,276.0 206.0,274.8 206.5,274.1 207.0,273.1 207.5,274.2 208.0,275.5 208.5,275.2 209.0,275.4 209.5,275.1 210.0,274.5 210.5,272.8 211.0,270.7 211.5,271.4 212.0,272.2 212.5,271.1 213.0,271.0 213.5,272.1 214.0,271.4 214.5,270.4 215.0,271.7 215.5,273.2 216.0,273.4 216.5,274.6 217.0,275.3 217.5,273.7 218.0,271.8 218.5,271.8 219.0,273.5 219.5,274.8 220.0,274.8 220.5,274.2 221.0,273.7 221.5,273.5 222.0,273.1 222.5,272.3 223.0,271.2 223.5,270.9 224.0,271.5 224.5,271.4 225.0,271.9 225.5,273.0 226.0,274.3 226.5,275.6 227.0,274.3 227.5,272.4 228.0,272.6 228.5,272.0 229.0,271.3 229.5,271.1 230.0,269.0 230.5,267.6 231.0,268.9 231.5,269.9 232.0,269.8 232.5,268.7 233.0,268.3 233.5,268.9 234.0,268.4 234.5,268.6 235.0,269.6 235.5,269.5 236.0,269.3 236.5,269.9 237.0,270.3 237.5,270.2 238.0,270.9 238.5,272.3 239.0,272.9 239.5,271.6 240.0,270.9 240.5,271.7 241.0,272.0 241.5,272.2 242.0,273.1 242.5,273.3 243.0,272.5 243.5,271.0 244.0,269.9 244.5,271.8 245.0,274.1 245.5,272.9 246.0,271.3 246.5,271.6 247.0,272.7 247.5,272.4 248.0,271.7 248.5,272.7 249.0,273.4 249.5,273.0 250.0,273.2 250.5,274.1 251.0,273.6 251.5,272.3 252.0,271.8 252.5,272.3 253.0,272.8 253.5,272.7 254.0,273.0 254.5,273.2 255.0,273.1 255.5,272.2 256.0,270.4 256.5,269.1 257.0,269.6 257.5,269.9 258.0,269.3 258.5,268.5 259.0,268.5 259.5,268.4 260.0,269.1 260.5,270.4 261.0,270.5 261.5,269.5 262.0,269.3 262.5,270.7 263.0,272.2 263.5,271.6 264.0,271.2 264.5,272.7 265.0,273.6 265.5,273.3 266.0,273.3 266.5,273.4 267.0,273.3 267.5,272.8 268.0,272.7 268.5,273.7 269.0,274.6 269.5,274.0 270.0,272.5 270.5,273.5 271.0,274.5 271.5,273.9 272.0,274.2 272.5,274.8 273.0,274.4 273.5,273.5 274.0,273.9 274.5,275.3 275.0,275.6 275.5,274.7 276.0,274.2 276.5,274.8 277.0,274.7 277.5,273.1 278.0,272.6 278.5,273.3 279.0,273.1 279.5,273.4 280.0,274.4 280.5,274.4 281.0,274.1 281.5,274.0 282.0,273.6 282.5,273.6 283.0,273.0 283.5,273.3 284.0,274.8 284.5,274.7 285.0,274.2 285.5,274.9 286.0,275.8 286.5,275.9 287.0,276.4 287.5,276.7 288.0,275.8 288.5,275.3 289.0,276.2 289.5,277.8 290.0,278.7 290.5,278.3 291.0,277.2 291.5,277.0 292.0,277.4 292.5,277.4 293.0,278.0 293.5,277.9 294.0,276.9 294.5,276.9 295.0,278.1 295.5,280.3 296.0,280.7 296.5,278.5 297.0,276.1 297.5,275.0 298.0,276.1 298.5,276.4 299.0,276.0 299.5,276.0 300.0,275.1 300.5,275.3 301.0,275.5 301.5,275.2 302.0,276.5 302.5,276.5 303.0,274.1 303.5,273.8 304.0,275.4 304.5,275.2 305.0,274.2 305.5,274.7 306.0,275.4 306.5,276.1 307.0,276.9 307.5,277.8 308.0,278.9 308.5,278.9 309.0,278.3 309.5,278.5 310.0,278.7 310.5,277.2 311.0,276.0 311.5,276.7 312.0,277.6 312.5,277.9 313.0,277.2 313.5,276.7 314.0,277.3 314.5,277.7 315.0,276.6 315.5,275.7 316.0,275.6 316.5,275.5 317.0,275.7 317.5,276.1 318.0,277.2 318.5,278.0 319.0,277.0 319.5,276.5 320.0,277.2 320.5,277.3 321.0,276.5 321.5,276.8 322.0,278.3 322.5,279.2 323.0,279.0 323.5,278.4 324.0,278.8 324.5,280.6 325.0,281.9 325.5,281.3 326.0,280.8 326.5,280.4 327.0,279.4 327.5,279.3 328.0,279.9 328.5,280.1 329.0,279.3 329.5,278.9 330.0,280.7 330.5,281.2 331.0,279.6 331.5,279.0 332.0,279.3 332.5,278.4 333.0,277.7 333.5,278.5 334.0,278.8 334.5,278.8 335.0,278.1 335.5,276.9 336.0,277.2 336.5,277.2 337.0,276.1 337.5,275.5 338.0,274.9 338.5,274.1 339.0,274.4 339.5,270.2 340.0,258.6 340.5,248.1 341.0,242.7 341.5,242.5 342.0,242.6 342.5,242.7 343.0,242.1 343.5,245.3 344.0,254.8 344.5,265.9 345.0,273.9 345.5,275.9 346.0,278.2 346.5,277.6 347.0,278.2 347.5,279.1 348.0,279.0 348.5,278.2 349.0,277.6 349.5,277.6 350.0,278.0 350.5,279.9 351.0,280.3 351.5,276.9 352.0,274.7 352.5,276.2 353.0,278.3 353.5,279.6 354.0,279.1 354.5,277.5 355.0,277.8 355.5,278.9 356.0,278.9 356.5,279.4 357.0,279.9 357.5,280.4 358.0,281.0 358.5,281.2 359.0,280.4 359.5,279.2 360.0,279.3 360.5,279.7 361.0,280.1 361.5,280.2 362.0,278.7 362.5,277.2 363.0,276.8 363.5,277.4 364.0,277.5 364.5,277.2 365.0,277.6 365.5,277.2 366.0,275.4 366.5,274.6 367.0,275.7 367.5,275.5 368.0,274.7 368.5,276.6 369.0,277.8 369.5,276.9 370.0,277.4 370.5,278.9 371.0,277.7 371.5,275.5 372.0,275.4 372.5,275.9 373.0,274.8 373.5,274.4 374.0,275.8 374.5,276.5 375.0,276.6 375.5,277.4 376.0,277.8 376.5,277.0 377.0,276.7 377.5,278.3 378.0,279.1 378.5,278.8 379.0,279.1 379.5,278.5 380.0,278.2 380.5,278.6 381.0,278.2 381.5,278.0 382.0,277.8 382.5,277.1 383.0,276.0 383.5,276.3 384.0,277.9 384.5,277.7 385.0,276.8 385.5,276.6 386.0,276.2 386.5,274.9 387.0,274.7 387.5,275.4 388.0,275.3 388.5,275.4 389.0,276.1 389.5,276.3 390.0,277.2 390.5,278.8 391.0,279.3 391.5,278.7 392.0,277.4 392.5,275.9 393.0,275.4 393.5,275.2 394.0,274.9 394.5,276.2 395.0,278.7 395.5,279.9 396.0,278.7 396.5,277.2 397.0,276.9 397.5,277.1 398.0,277.5 398.5,277.8 399.0,279.1 399.5,280.5 400.0,280.4 400.5,279.8 401.0,278.0 401.5,277.2 402.0,278.8 402.5,278.8 403.0,277.0 403.5,275.8 404.0,275.2 404.5,276.2 405.0,277.4 405.5,276.7 406.0,275.3 406.5,275.0 407.0,276.4 407.5,277.5 408.0,277.2 408.5,275.9 409.0,275.6 409.5,276.8 410.0,276.3 410.5,275.7 411.0,275.1 411.5,273.7 412.0,274.2 412.5,275.4 413.0,276.3 413.5,277.1 414.0,275.6 414.5,273.6 415.0,274.3 415.5,275.6 416.0,275.2 416.5,273.7 417.0,273.9 417.5,276.1 418.0,277.1 418.5,276.0 419.0,276.2 419.5,276.7 420.0,275.2 420.5,276.6 421.0,279.1 421.5,278.1 422.0,276.5 422.5,276.4 423.0,276.6 423.5,275.7 424.0,275.6 424.5,275.4 425.0,274.9 425.5,274.8 426.0,273.8 426.5,273.6 427.0,274.0 427.5,274.2 428.0,274.8 428.5,274.9 429.0,274.5 429.5,274.2 430.0,274.5 430.5,275.5 431.0,276.5 431.5,276.8 432.0,277.0 432.5,276.6 433.0,276.6 433.5,277.0 434.0,276.6 434.5,277.4 435.0,278.0 435.5,276.8 436.0,275.9 436.5,275.5 437.0,275.4 437.5,275.5 438.0,276.1 438.5,276.9 439.0,278.2 439.5,279.4 440.0,279.2 440.5,278.6 441.0,278.0 441.5,277.1 442.0,276.0 442.5,275.7 443.0,277.8 443.5,279.7 444.0,278.8 444.5,278.2 445.0,278.8 445.5,277.6 446.0,276.0 446.5,275.3 447.0,275.5 447.5,277.3 448.0,278.7 448.5,277.1 449.0,275.3 449.5,275.5 450.0,275.3 450.5,274.9 451.0,276.3 451.5,277.6 452.0,277.7 452.5,277.0 453.0,275.2 453.5,275.4 454.0,278.2 454.5,278.3 455.0,276.6 455.5,277.0 456.0,278.0 456.5,278.3 457.0,277.9 457.5,277.4 458.0,277.7 458.5,277.9 459.0,276.8 459.5,274.5 460.0,273.6 460.5,274.7 461.0,275.8 461.5,277.4 462.0,278.4 462.5,277.5 463.0,276.6 463.5,276.7 464.0,276.5 464.5,275.7 465.0,275.6 465.5,275.4 466.0,274.9 466.5,273.8 467.0,272.5 467.5,271.5 468.0,270.4 468.5,269.4 469.0,268.9 469.5,268.4 470.0,267.6 470.5,266.8 471.0,268.8 471.5,271.0 472.0,272.9 472.5,273.3 473.0,273.9 473.5,274.8 474.0,275.5 474.5,274.3 475.0,273.7 475.5,275.0 476.0,274.6 476.5,273.2 477.0,272.8 477.5,272.8 478.0,273.4 478.5,274.5 479.0,276.2 479.5,275.7 480.0,273.5 480.5,273.2 481.0,273.7 481.5,274.0 482.0,275.3 482.5,276.2 483.0,275.9 483.5,276.6 484.0,278.4 484.5,280.1 485.0,280.2 485.5,279.3 486.0,278.7 486.5,278.2 487.0,277.9 487.5,277.9 488.0,278.0 488.5,277.0 489.0,276.7 489.5,278.1 490.0,278.1 490.5,276.9 491.0,277.2 491.5,278.4 492.0,278.3 492.5,277.9 493.0,278.1 493.5,279.1 494.0,280.2 494.5,279.2 495.0,276.5 495.5,275.8 496.0,278.0 496.5,279.6 497.0,279.4 497.5,278.8 498.0,277.3 498.5,276.7 499.0,277.9 499.5,278.6 500.0,277.8 500.5,276.8 501.0,276.9 501.5,277.7 502.0,278.0 502.5,277.4 503.0,276.8 503.5,277.8 504.0,279.1 504.5,278.4 505.0,277.0 505.5,276.3 506.0,277.4 506.5,278.3 507.0,276.7 507.5,276.8 508.0,278.9 508.5,279.5 509.0,278.9 509.5,279.1 510.0,279.6 510.5,279.3 511.0,279.3 511.5,279.8 512.0,279.8 512.5,279.2 513.0,278.3 513.5,278.0 514.0,276.9 514.5,276.6 515.0,277.9 515.5,278.3 516.0,278.2 516.5,278.7 517.0,279.8 517.5,278.9 518.0,277.6 518.5,278.6 519.0,279.1 519.5,278.4 520.0,279.6 520.5,281.2 521.0,280.3 521.5,278.7 522.0,278.3 522.5,278.2 523.0,276.1 523.5,274.9 524.0,276.4 524.5,278.7 525.0,280.6 525.5,280.0 526.0,278.1 526.5,278.3 527.0,279.4 527.5,279.2 528.0,279.2 528.5,280.1 529.0,280.7 529.5,281.0 530.0,281.7 530.5,283.3 531.0,282.7 531.5,281.8 532.0,283.2 532.5,283.4 533.0,282.3 533.5,281.4 534.0,281.4 534.5,281.7 535.0,281.8 535.5,282.3 536.0,281.5 536.5,280.1 537.0,280.5 537.5,281.6 538.0,281.4 538.5,280.2 539.0,279.7 539.5,279.3 540.0,278.2 540.5,278.8 541.0,280.4 541.5,280.0 542.0,279.0 542.5,279.4 543.0,281.1 543.5,281.5 544.0,280.1 544.5,279.2 545.0,279.5 545.5,280.9 546.0,280.4 546.5,279.2 547.0,279.9 547.5,280.0 548.0,279.5 548.5,278.9 549.0,277.9 549.5,278.0 550.0,278.8 550.5,278.2 551.0,278.4 551.5,279.8 552.0,278.9 552.5,277.5 553.0,278.0 553.5,279.6 554.0,280.4 554.5,280.3 555.0,279.6 555.5,278.3 556.0,278.4 556.5,279.2 557.0,279.9 557.5,279.3 558.0,279.5 558.5,281.3 559.0,280.4 559.5,279.7 560.0,280.6 560.5,280.3 561.0,278.0 561.5,275.3 562.0,276.3 562.5,278.1 563.0,277.3 563.5,275.6 564.0,276.1 564.5,278.6 565.0,279.0 565.5,277.7 566.0,277.9 566.5,277.9 567.0,277.5 567.5,278.2 568.0,279.3 568.5,280.3 569.0,280.7 569.5,279.8 570.0,279.3 570.5,279.5 571.0,278.7 571.5,278.8 572.0,280.1 572.5,280.0 573.0,280.0 573.5,279.9 574.0,279.4 574.5,280.0 575.0,280.2 575.5,280.0 576.0,279.8 576.5,278.5 577.0,277.6 577.5,278.5 578.0,279.7 578.5,280.9 579.0,281.0 579.5,280.4 580.0,281.5 580.5,283.0 581.0,283.1 581.5,282.4 582.0,281.8 582.5,281.2 583.0,281.4 583.5,281.8 584.0,281.7 584.5,281.0 585.0,279.5 585.5,278.3 586.0,278.6 586.5,280.7 587.0,283.0 587.5,282.8 588.0,280.4 588.5,280.0 589.0,282.0 589.5,282.0 590.0,281.3 590.5,282.4 591.0,283.3 591.5,283.5 592.0,283.4 592.5,283.1 593.0,282.1 593.5,280.8 594.0,280.6 594.5,281.2 595.0,281.5 595.5,280.1 596.0,279.7 596.5,281.8 597.0,283.4 597.5,283.7 598.0,282.1 598.5,279.6 599.0,279.1 599.5,279.7 600.0,279.1 600.5,278.1 601.0,279.2 601.5,279.7 602.0,279.1 602.5,280.0 603.0,280.9 603.5,280.8 604.0,281.3 604.5,281.5 605.0,281.0 605.5,280.4 606.0,280.5 606.5,281.1 607.0,280.2 607.5,279.9 608.0,280.6 608.5,280.6 609.0,281.4 609.5,282.2 610.0,281.5 610.5,281.5 611.0,282.3 611.5,281.3 612.0,279.7" stroke="#0000ff" stroke-width="3.8"/>
<polyline points="62.0,321.2 62.5,316.2 63.0,310.9 63.5,309.4 64.0,307.8 64.5,306.6 65.0,305.7 65.5,304.7 66.0,303.6 66.5,303.5 67.0,303.5 67.5,305.1 68.0,306.5 68.5,310.3 69.0,313.9 69.5,317.1 70.0,320.0 70.5,324.3 71.0,329.4 71.5,336.3 72.0,341.2 72.5,342.8 73.0,344.5 73.5,346.1 74.0,347.3 74.5,348.4 75.0,349.5 75.5,350.8 76.0,351.8 76.5,351.9 77.0,352.6 77.5,353.3 78.0,353.7 78.5,354.5 79.0,355.3 79.5,355.8 80.0,355.9 80.5,355.5 81.0,355.5 81.5,356.2 82.0,357.1 82.5,357.2 83.0,356.7 83.5,356.4 84.0,356.6 84.5,356.6 85.0,356.8 85.5,357.5 86.0,358.0 86.5,357.3 87.0,356.9 87.5,357.1 88.0,356.7 88.5,356.8 89.0,357.5 89.5,357.4 90.0,357.1 90.5,357.5 91.0,357.4 91.5,357.4 92.0,357.7 92.5,358.0 93.0,358.3 93.5,358.3 94.0,358.4 94.5,358.5 95.0,358.7 95.5,359.3 96.0,359.0 96.5,359.4 97.0,360.7 97.5,360.3 98.0,360.2 98.5,361.3 99.0,361.5 99.5,361.0 100.0,360.4 100.5,359.7 101.0,358.9 101.5,358.5 102.0,359.0 102.5,359.8 103.0,360.9 103.5,360.9 104.0,359.9 104.5,359.5 105.0,359.1 105.5,358.5 106.0,357.8 106.5,357.5 107.0,357.7 107.5,357.9 108.0,358.1 108.5,358.5 109.0,359.0 109.5,358.9 110.0,358.9 110.5,359.2 111.0,358.9 111.5,358.4 112.0,358.1 112.5,358.4 113.0,358.8 113.5,358.8 114.0,358.6 114.5,358.3 115.0,357.9 115.5,357.5 116.0,357.4 116.5,357.8 117.0,357.7 117.5,357.3 118.0,357.2 118.5,356.8 119.0,356.7 119.5,356.9 120.0,356.3 120.5,355.7 121.0,355.4 121.5,355.4 122.0,355.9 122.5,355.7 123.0,355.8 123.5,356.8 124.0,356.7 124.5,355.7 125.0,355.5 125.5,356.0 126.0,355.9 126.5,355.2 127.0,355.1 127.5,355.5 128.0,355.4 128.5,355.4 129.0,354.9 129.5,354.1 130.0,353.3 130.5,353.0 131.0,354.1 131.5,354.8 132.0,354.4 132.5,354.8 133.0,354.9 133.5,354.2 134.0,353.9 134.5,353.6 135.0,353.2 135.5,353.2 136.0,353.4 136.5,353.7 137.0,353.1 137.5,350.8 138.0,348.9 138.5,346.9 139.0,343.3 139.5,340.9 140.0,342.2 140.5,343.5 141.0,344.9 141.5,345.4 142.0,346.0 142.5,346.7 143.0,347.3 143.5,347.7 144.0,348.1 144.5,347.0 145.0,345.7 145.5,346.4 146.0,347.2 146.5,346.7 147.0,346.0 147.5,345.8 148.0,346.0 148.5,345.8 149.0,345.2 149.5,344.9 150.0,345.6 150.5,346.1 151.0,346.4 151.5,347.4 152.0,348.1 152.5,348.5 153.0,349.2 153.5,348.8 154.0,348.5 154.5,349.8 155.0,350.4 155.5,349.8 156.0,349.7 156.5,349.6 157.0,349.4 157.5,349.8 158.0,350.0 158.5,349.7 159.0,349.5 159.5,350.0 160.0,351.2 160.5,351.7 161.0,351.3 161.5,350.7 162.0,350.5 162.5,351.5 163.0,351.6 163.5,350.9 164.0,350.7 164.5,350.2 165.0,350.5 165.5,351.0 166.0,350.3 166.5,350.2 167.0,351.3 167.5,351.9 168.0,351.8 168.5,351.9 169.0,352.0 169.5,352.4 170.0,352.3 170.5,352.1 171.0,352.4 171.5,352.8 172.0,353.7 172.5,353.9 173.0,353.0 173.5,351.9 174.0,351.3 174.5,351.5 175.0,352.0 175.5,352.2 176.0,352.2 176.5,352.4 177.0,352.1 177.5,350.9 178.0,350.9 178.5,351.7 179.0,351.4 179.5,350.8 180.0,350.6 180.5,349.9 181.0,349.0 181.5,348.7 182.0,349.0 182.5,349.1 183.0,349.0 183.5,348.6 184.0,348.7 184.5,349.4 185.0,350.1 185.5,350.3 186.0,350.5 186.5,351.0 187.0,351.7 187.5,352.5 188.0,352.8 188.5,352.6 189.0,352.5 189.5,352.4 190.0,350.3 190.5,348.8 191.0,347.1 191.5,344.9 192.0,343.0 192.5,341.3 193.0,339.5 193.5,340.7 194.0,341.9 194.5,343.4 195.0,345.0 195.5,346.4 196.0,347.3 196.5,347.9 197.0,348.8 197.5,349.9 198.0,350.3 198.5,350.4 199.0,350.2 199.5,350.8 200.0,351.0 200.5,351.0 201.0,351.1 201.5,351.3 202.0,351.8 202.5,352.7 203.0,353.1 203.5,352.8 204.0,353.1 204.5,353.5 205.0,353.3 205.5,353.4 206.0,353.6 206.5,354.1 207.0,355.3 207.5,356.6 208.0,357.5 208.5,357.3 209.0,356.4 209.5,355.4 210.0,355.0 210.5,354.4 211.0,354.2 211.5,354.9 212.0,354.5 212.5,353.8 213.0,354.3 213.5,355.3 214.0,355.5 214.5,354.9 215.0,354.8 215.5,354.6 216.0,354.3 216.5,354.6 217.0,354.4 217.5,354.2 218.0,354.5 218.5,354.2 219.0,354.1 219.5,354.0 220.0,353.8 220.5,354.3 221.0,354.5 221.5,354.1 222.0,354.7 222.5,355.3 223.0,354.8 223.5,354.7 224.0,355.0 224.5,354.8 225.0,354.8 225.5,354.9 226.0,355.2 226.5,355.0 227.0,355.0 227.5,355.6 228.0,355.4 228.5,354.7 229.0,354.5 229.5,354.6 230.0,355.0 230.5,355.4 231.0,355.3 231.5,354.5 232.0,354.7 232.5,355.5 233.0,355.4 233.5,355.5 234.0,355.9 234.5,355.5 235.0,355.2 235.5,355.5 236.0,356.1 236.5,355.8 237.0,355.1 237.5,354.9 238.0,354.9 238.5,355.6 239.0,355.8 239.5,355.2 240.0,354.4 240.5,354.3 241.0,355.0 241.5,355.1 242.0,355.0 242.5,355.1 243.0,354.6 243.5,354.2 244.0,354.0 244.5,354.6 245.0,355.8 245.5,355.4 246.0,355.0 246.5,354.6 247.0,353.7 247.5,354.4 248.0,355.2 248.5,355.2 249.0,355.2 249.5,354.9 250.0,355.8 250.5,355.7 251.0,354.3 251.5,354.1 252.0,354.8 252.5,354.7 253.0,354.4 253.5,354.4 254.0,354.0 254.5,353.2 255.0,352.9 255.5,351.9 256.0,350.9 256.5,350.7 257.0,350.8 257.5,350.6 258.0,349.9 258.5,348.8 259.0,348.2 259.5,348.0 260.0,348.7 260.5,349.3 261.0,349.8 261.5,349.8 262.0,349.8 262.5,351.0 263.0,352.8 263.5,353.7 264.0,353.8 264.5,353.6 265.0,353.6 265.5,353.3 266.0,353.4 266.5,353.4 267.0,353.6 267.5,353.5 268.0,352.8 268.5,352.4 269.0,352.4 269.5,352.7 270.0,352.7 270.5,352.7 271.0,353.5 271.5,354.3 272.0,354.3 272.5,354.1 273.0,354.4 273.5,354.8 274.0,354.9 274.5,355.0 275.0,355.6 275.5,355.9 276.0,355.8 276.5,356.6 277.0,356.9 277.5,356.4 278.0,357.4 278.5,357.8 279.0,357.0 279.5,356.5 280.0,356.3 280.5,356.7 281.0,357.1 281.5,357.0 282.0,356.7 282.5,356.7 283.0,357.0 283.5,357.1 284.0,357.3 284.5,357.5 285.0,357.5 285.5,358.1 286.0,358.0 286.5,357.5 287.0,357.9 287.5,358.1 288.0,357.7 288.5,357.6 289.0,357.9 289.5,358.4 290.0,358.6 290.5,358.7 291.0,359.0 291.5,359.0 292.0,359.4 292.5,359.3 293.0,358.8 293.5,359.6 294.0,360.1 294.5,359.2 295.0,358.9 295.5,358.8 296.0,358.7 296.5,358.5 297.0,358.6 297.5,359.3 298.0,359.5 298.5,359.6 299.0,360.2 299.5,360.3 300.0,359.7 300.5,359.7 301.0,360.7 301.5,360.2 302.0,358.5 302.5,358.3 303.0,359.4 303.5,360.5 304.0,360.6 304.5,360.0 305.0,360.0 305.5,359.9 306.0,359.4 306.5,359.7 307.0,359.8 307.5,359.8 308.0,359.5 308.5,358.8 309.0,358.9 309.5,358.5 310.0,357.7 310.5,356.8 311.0,355.9 311.5,354.6 312.0,353.3 312.5,352.0 313.0,350.3 313.5,348.7 314.0,347.0 314.5,346.3 315.0,345.5 315.5,344.7 316.0,343.9 316.5,343.4 317.0,344.0 317.5,344.5 318.0,345.1 318.5,345.8 319.0,347.8 319.5,350.0 320.0,352.3 320.5,353.9 321.0,354.8 321.5,355.6 322.0,356.7 322.5,356.8 323.0,356.9 323.5,357.3 324.0,357.6 324.5,358.2 325.0,358.8 325.5,358.8 326.0,358.9 326.5,359.4 327.0,359.3 327.5,359.2 328.0,359.7 328.5,360.5 329.0,361.0 329.5,361.0 330.0,360.8 330.5,361.1 331.0,361.5 331.5,361.4 332.0,361.4 332.5,361.6 333.0,362.1 333.5,363.0 334.0,362.9 334.5,362.5 335.0,363.2 335.5,363.4 336.0,363.6 336.5,363.7 337.0,363.2 337.5,363.3 338.0,363.6 338.5,363.2 339.0,363.0 339.5,363.3 340.0,363.1 340.5,363.0 341.0,363.8 341.5,363.3 342.0,362.1 342.5,362.9 343.0,364.7 343.5,365.0 344.0,363.9 344.5,363.0 345.0,363.6 345.5,364.5 346.0,364.4 346.5,363.8 347.0,363.8 347.5,364.3 348.0,364.3 348.5,364.4 349.0,365.0 349.5,365.4 350.0,365.1 350.5,364.4 351.0,364.2 351.5,365.3 352.0,365.9 352.5,364.9 353.0,364.2 353.5,364.8 354.0,366.2 354.5,367.2 355.0,367.1 355.5,366.9 356.0,367.2 356.5,366.9 357.0,365.9 357.5,365.4 358.0,365.6 358.5,366.0 359.0,366.4 359.5,366.4 360.0,366.3 360.5,366.4 361.0,367.0 361.5,367.7 362.0,367.9 362.5,368.6 363.0,368.3 363.5,367.2 364.0,367.5 364.5,367.4 365.0,366.8 365.5,367.2 366.0,367.6 366.5,367.3 367.0,367.0 367.5,367.2 368.0,367.5 368.5,367.2 369.0,366.9 369.5,366.8 370.0,366.8 370.5,366.5 371.0,366.4 371.5,367.4 372.0,367.8 372.5,367.7 373.0,367.5 373.5,367.4 374.0,367.8 374.5,367.3 375.0,367.2 375.5,367.8 376.0,367.9 376.5,367.1 377.0,366.5 377.5,366.3 378.0,365.9 378.5,366.3 379.0,367.4 379.5,367.9 380.0,367.5 380.5,366.8 381.0,366.6 381.5,366.6 382.0,367.1 382.5,367.3 383.0,366.9 383.5,366.7 384.0,366.8 384.5,367.3 385.0,367.6 385.5,367.2 386.0,367.4 386.5,368.2 387.0,368.9 387.5,368.9 388.0,368.2 388.5,367.2 389.0,367.3 389.5,368.6 390.0,369.3 390.5,369.2 391.0,369.0 391.5,368.2 392.0,368.2 392.5,368.5 393.0,368.0 393.5,368.0 394.0,368.2 394.5,368.4 395.0,368.4 395.5,367.5 396.0,366.5 396.5,365.9 397.0,366.1 397.5,366.7 398.0,366.9 398.5,367.1 399.0,367.1 399.5,366.3 400.0,365.8 400.5,366.6 401.0,366.7 401.5,366.0 402.0,366.3 402.5,367.4 403.0,367.6 403.5,367.2 404.0,366.8 404.5,366.1 405.0,365.9 405.5,365.9 406.0,365.7 406.5,365.4 407.0,365.4 407.5,365.7 408.0,365.6 408.5,365.8 409.0,366.1 409.5,365.4 410.0,365.3 410.5,365.8 411.0,365.4 411.5,365.3 412.0,364.9 412.5,364.2 413.0,364.6 413.5,365.2 414.0,365.7 414.5,366.3 415.0,366.8 415.5,367.3 416.0,367.4 416.5,367.0 417.0,366.7 417.5,366.5 418.0,366.1 418.5,366.5 419.0,367.5 419.5,367.1 420.0,366.1 420.5,366.5 421.0,367.5 421.5,368.0 422.0,367.6 422.5,366.5 423.0,366.3 423.5,366.9 424.0,367.2 424.5,367.6 425.0,368.0 425.5,368.1 426.0,368.2 426.5,368.6 427.0,368.7 427.5,368.1 428.0,367.8 428.5,368.4 429.0,368.5 429.5,368.2 430.0,367.6 430.5,367.1 431.0,367.4 431.5,367.1 432.0,367.1 432.5,367.8 433.0,367.8 433.5,367.9 434.0,368.6 434.5,368.3 435.0,367.1 435.5,367.3 436.0,368.2 436.5,367.3 437.0,366.7 437.5,368.0 438.0,369.3 438.5,369.6 439.0,369.5 439.5,369.3 440.0,369.5 440.5,369.5 441.0,369.5 441.5,369.8 442.0,369.8 442.5,369.6 443.0,370.3 443.5,370.8 444.0,369.8 444.5,368.5 445.0,368.9 445.5,369.3 446.0,369.1 446.5,369.1 447.0,369.0 447.5,369.7 448.0,369.6 448.5,369.4 449.0,369.8 449.5,369.7 450.0,368.9 450.5,368.4 451.0,369.1 451.5,370.0 452.0,369.4 452.5,368.7 453.0,369.5 453.5,370.1 454.0,369.4 454.5,368.3 455.0,367.5 455.5,367.6 456.0,368.2 456.5,368.8 457.0,368.8 457.5,367.9 458.0,367.4 458.5,367.6 459.0,368.1 459.5,368.5 460.0,368.3 460.5,368.5 461.0,368.6 461.5,368.2 462.0,368.4 462.5,368.1 463.0,367.4 463.5,367.4 464.0,368.1 464.5,368.1 465.0,367.5 465.5,367.7 466.0,367.6 466.5,367.1 467.0,367.2 467.5,367.2 468.0,367.2 468.5,367.0 469.0,366.9 469.5,367.2 470.0,366.8 470.5,366.1 471.0,365.8 471.5,366.4 472.0,367.1 472.5,367.8 473.0,368.6 473.5,369.0 474.0,368.8 474.5,368.8 475.0,368.7 475.5,369.0 476.0,369.7 476.5,369.5 477.0,369.1 477.5,369.3 478.0,369.9 478.5,370.2 479.0,369.7 479.5,369.5 480.0,369.9 480.5,369.9 481.0,370.1 481.5,370.6 482.0,370.1 482.5,369.9 483.0,371.1 483.5,372.0 484.0,372.5 484.5,372.2 485.0,370.5 485.5,370.0 486.0,370.6 486.5,370.8 487.0,370.2 487.5,370.2 488.0,370.4 488.5,370.0 489.0,370.2 489.5,370.6 490.0,370.3 490.5,370.2 491.0,369.6 491.5,368.8 492.0,369.0 492.5,369.5 493.0,369.6 493.5,369.9 494.0,370.2 494.5,370.3 495.0,370.0 495.5,369.8 496.0,369.7 496.5,369.7 497.0,370.1 497.5,370.3 498.0,369.6 498.5,369.4 499.0,369.2 499.5,369.7 500.0,370.4 500.5,370.7 501.0,370.6 501.5,370.0 502.0,369.6 502.5,369.8 503.0,370.0 503.5,370.0 504.0,370.0 504.5,370.5 505.0,370.9 505.5,370.6 506.0,370.2 506.5,369.9 507.0,369.3 507.5,368.9 508.0,369.2 508.5,369.3 509.0,369.2 509.5,369.7 510.0,369.6 510.5,369.1 511.0,369.4 511.5,370.1 512.0,370.2 512.5,370.4 513.0,371.4 513.5,371.1 514.0,369.8 514.5,369.6 515.0,369.1 515.5,368.5 516.0,369.3 516.5,370.0 517.0,369.6 517.5,369.7 518.0,370.4 518.5,370.3 519.0,370.3 519.5,370.8 520.0,370.3 520.5,369.2 521.0,369.0 521.5,369.5 522.0,370.3 522.5,371.0 523.0,371.1 523.5,370.4 524.0,370.2 524.5,370.9 525.0,370.8 525.5,369.9 526.0,370.0 526.5,370.8 527.0,371.4 527.5,371.1 528.0,370.9 528.5,371.0 529.0,370.2 529.5,370.4 530.0,371.4 530.5,371.0 531.0,370.1 531.5,370.4 532.0,370.9 532.5,370.2 533.0,369.7 533.5,369.7 534.0,369.0 534.5,368.6 535.0,368.5 535.5,368.5 536.0,369.0 536.5,368.9 537.0,368.5 537.5,369.2 538.0,369.8 538.5,369.6 539.0,369.5 539.5,369.3 540.0,368.8 540.5,368.9 541.0,369.5 541.5,370.4 542.0,371.4 542.5,371.1 543.0,370.0 543.5,369.4 544.0,368.8 544.5,369.0 545.0,370.5 545.5,370.4 546.0,369.3 546.5,370.4 547.0,371.7 547.5,371.3 548.0,370.7 548.5,370.3 549.0,369.5 549.5,369.1 550.0,369.4 550.5,369.9 551.0,370.2 551.5,370.9 552.0,371.3 552.5,371.0 553.0,370.4 553.5,369.5 554.0,369.6 554.5,370.8 555.0,371.1 555.5,370.5 556.0,369.4 556.5,369.1 557.0,369.5 557.5,369.0 558.0,369.1 558.5,369.7 559.0,370.3 559.5,371.0 560.0,370.4 560.5,369.8 561.0,370.0 561.5,370.0 562.0,370.4 562.5,370.4 563.0,369.9 563.5,369.9 564.0,369.9 564.5,370.7 565.0,371.5 565.5,371.4 566.0,371.2 566.5,371.3 567.0,371.6 567.5,371.8 568.0,370.9 568.5,369.9 569.0,369.5 569.5,369.4 570.0,369.5 570.5,369.8 571.0,370.3 571.5,370.3 572.0,369.9 572.5,369.5 573.0,369.0 573.5,368.1 574.0,367.5 574.5,367.9 575.0,369.3 575.5,369.9 576.0,368.9 576.5,368.4 577.0,368.1 577.5,367.8 578.0,368.3 578.5,368.3 579.0,367.3 579.5,367.0 580.0,367.6 580.5,368.0 581.0,368.4 581.5,368.6 582.0,368.4 582.5,368.5 583.0,368.9 583.5,369.1 584.0,368.9 584.5,368.0 585.0,366.9 585.5,366.6 586.0,367.0 586.5,367.3 587.0,367.8 587.5,368.5 588.0,368.1 588.5,367.6 589.0,367.2 589.5,367.1 590.0,368.0 590.5,368.5 591.0,368.2 591.5,367.6 592.0,367.7 592.5,368.3 593.0,368.3 593.5,367.9 594.0,368.4 594.5,368.8 595.0,367.9 595.5,367.9 596.0,368.6 596.5,368.8 597.0,368.9 597.5,369.0 598.0,368.8 598.5,367.7 599.0,367.1 599.5,367.7 600.0,368.1 600.5,368.2 601.0,368.5 601.5,368.9 602.0,368.8 602.5,368.9 603.0,369.1 603.5,368.8 604.0,368.7 604.5,368.5 605.0,368.7 605.5,369.2 606.0,368.5 606.5,367.9 607.0,368.6 607.5,369.4 608.0,369.5 608.5,369.4 609.0,368.8 609.5,368.7 610.0,370.2 610.5,371.1 611.0,369.8 611.5,369.3 612.0,370.3" stroke="#000" stroke-width="3.6"/>
</g>
<g stroke="#454545" stroke-width="2.1" fill="none">
<line x1="61.7" y1="4" x2="61.7" y2="388"/>
<line x1="60.7" y1="387.2" x2="644.5" y2="387.2"/>
<line x1="62.0" y1="387" x2="62.0" y2="395" />
<line x1="101.2" y1="387" x2="101.2" y2="392" />
<line x1="140.4" y1="387" x2="140.4" y2="395" />
<line x1="179.6" y1="387" x2="179.6" y2="392" />
<line x1="218.9" y1="387" x2="218.9" y2="395" />
<line x1="258.1" y1="387" x2="258.1" y2="392" />
<line x1="297.3" y1="387" x2="297.3" y2="395" />
<line x1="336.5" y1="387" x2="336.5" y2="392" />
<line x1="375.7" y1="387" x2="375.7" y2="395" />
<line x1="414.9" y1="387" x2="414.9" y2="392" />
<line x1="454.1" y1="387" x2="454.1" y2="395" />
<line x1="493.4" y1="387" x2="493.4" y2="392" />
<line x1="532.6" y1="387" x2="532.6" y2="395" />
<line x1="571.8" y1="387" x2="571.8" y2="392" />
<line x1="611.0" y1="387" x2="611.0" y2="395" />
</g>
<g font-weight="bold" font-size="19.5" fill="#111">
<text x="54.7" y="418" transform="translate(54.7,0) scale(1.22,1) translate(-54.7,0)">10</text>
<text x="133.5" y="418" transform="translate(133.5,0) scale(1.22,1) translate(-133.5,0)">20</text>
<text x="212" y="418" transform="translate(212,0) scale(1.22,1) translate(-212,0)">30</text>
<text x="291.2" y="418" transform="translate(291.2,0) scale(1.22,1) translate(-291.2,0)">40</text>
<text x="370.7" y="418" transform="translate(370.7,0) scale(1.22,1) translate(-370.7,0)">50</text>
<text x="449.2" y="418" transform="translate(449.2,0) scale(1.22,1) translate(-449.2,0)">60</text>
<text x="533.1" y="418" transform="translate(533.1,0) scale(1.22,1) translate(-533.1,0)">70</text>
<text x="612" y="418" transform="translate(612,0) scale(1.22,1) translate(-612,0)">80</text>
</g>
<text transform="translate(326.5,451.6) scale(1.196,1)" x="-0.95 13.30 30.36 43.05 51.90 66.39 75.24 93.18 107.74 120.63 126.76 138.77" y="0" font-weight="bold" font-size="26.7" fill="#111">2Teta(Angle)</text>
<clipPath id="ic"><rect x="0" y="100" width="26.8" height="160"/></clipPath>
<g clip-path="url(#ic)"><text transform="translate(24.4,237.5) rotate(-90) scale(1,1.157)" x="0" y="0" font-weight="bold" font-size="27.5" fill="#111">Intensity</text></g>
<g font-weight="bold" font-style="italic" font-size="15">
<text transform="translate(618.4,94.1) scale(1.1,1) skewX(-3)" x="0" y="0" fill="#78c346"><tspan dy="0" dx="0" font-size="15">rGO/Fe</tspan><tspan dy="-5.9" dx="0" font-size="10.8">0</tspan><tspan dy="5.9" dx="-0.7" font-size="15">/Fe</tspan><tspan dy="3.3" dx="0" font-size="10">3</tspan><tspan dy="-3.3" dx="-0.6" font-size="15">O</tspan><tspan dy="3.3" dx="-0.4" font-size="10">4</tspan><tspan dy="-3.3" dx="-0.8" font-size="15">/TiO</tspan><tspan dy="3.3" dx="0.6" font-size="10">2</tspan></text>
<text transform="translate(618.4,181.9) scale(1.1,1) skewX(-3)" x="0" y="0" fill="#ff0000"><tspan dy="0" dx="0" font-size="15">rGO/Fe</tspan><tspan dy="-5.9" dx="0" font-size="10.8">0</tspan><tspan dy="5.9" dx="0" font-size="15">/Fe</tspan><tspan dy="3.3" dx="0" font-size="10">3</tspan><tspan dy="-3.3" dx="0" font-size="15">O</tspan><tspan dy="3.3" dx="0" font-size="10">4</tspan></text>
<text transform="translate(625.4,282) scale(1.1,1) skewX(-3)" x="0" y="0" fill="#106cc4"><tspan dy="0" dx="0" font-size="15">rGO/Fe</tspan><tspan dy="-5.9" dx="0" font-size="10.8">0</tspan></text>
<text transform="translate(631.6,370.1) scale(1.1,1) skewX(-3)" x="0" y="0" fill="#000"><tspan dy="0" dx="0" font-size="15">rGO</tspan></text>
</g>
<polyline points="618.3,94.5 619.8,96.5 621.4,94.5 622.9,96.5 624.5,94.5 626.0,96.5 627.6,94.5 629.1,96.5 630.7,94.5 632.2,96.5 633.8,94.5 635.3,96.5 636.9,94.5 638.4,96.5 640.0,94.5 641.5,96.5 643.1,94.5 644.6,96.5 646.2,94.5 647.7,96.5" fill="none" stroke="#ff6060" stroke-width="1.15" />
<polyline points="618.3,183.1 619.8,185.1 621.4,183.1 622.9,185.1 624.5,183.1 626.0,185.1 627.6,183.1 629.1,185.1 630.7,183.1 632.2,185.1 633.8,183.1 635.3,185.1 636.9,183.1 638.4,185.1 640.0,183.1 641.5,185.1 643.1,183.1 644.6,185.1 646.2,183.1 647.7,185.1" fill="none" stroke="#ff6060" stroke-width="1.15" />
<polyline points="625.4,282.8 626.9,284.8 628.5,282.8 630.0,284.8 631.6,282.8 633.1,284.8 634.7,282.8 636.2,284.8 637.8,282.8 639.3,284.8 640.9,282.8 642.4,284.8 644.0,282.8 645.5,284.8 647.1,282.8 648.6,284.8 650.2,282.8 651.7,284.8 653.3,282.8 654.8,284.8" fill="none" stroke="#ff6060" stroke-width="1.15" />
<polyline points="631.6,372.0 633.1,374.0 634.7,372.0 636.2,374.0 637.8,372.0 639.3,374.0 640.9,372.0 642.4,374.0 644.0,372.0 645.5,374.0 647.1,372.0 648.6,374.0 650.2,372.0 651.7,374.0 653.3,372.0 654.8,374.0 656.4,372.0 657.9,374.0 659.5,372.0 661.0,374.0" fill="none" stroke="#ff6060" stroke-width="1.15" />
<rect x="77" y="434.3" width="2" height="1.3" fill="#c4e6fb"/>
</svg>
</body></html>
